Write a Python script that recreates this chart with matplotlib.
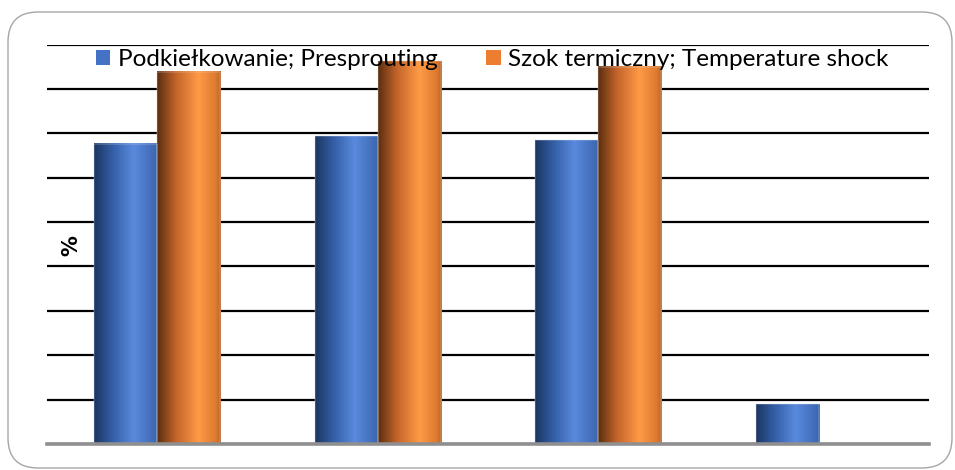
import numpy as np
import matplotlib
matplotlib.use("Agg")
import matplotlib.pyplot as plt
from matplotlib.colors import LinearSegmentedColormap, to_rgb
from matplotlib.patches import FancyBboxPatch, Patch

# ---------------------------------------------------------------------------
# Data (% values per treatment group)
# ---------------------------------------------------------------------------
CATEGORIES = ["1", "2", "3", "4"]
PRESPROUTING = [67.6, 69.3, 68.4, 8.9]
TEMP_SHOCK = [83.9, 86.2, 85.0, np.nan]
SERIES_LABELS = ["Podkiełkowanie; Presprouting", "Szok termiczny; Temperature shock"]

# cylinder-like shading across each bar, left to right
BLUE_STOPS = [(0.0, "#1b3561"), (0.3, "#3560a8"), (0.62, "#5a8ade"), (1.0, "#3a64ad")]
ORANGE_STOPS = [(0.0, "#5a2e10"), (0.3, "#c4652a"), (0.65, "#ff9a46"), (0.92, "#dd7a30"), (1.0, "#b9652c")]

plt.rcParams["font.family"] = ["Lato", "DejaVu Sans"]

W, H = 955, 470
fig = plt.figure(figsize=(W / 100, H / 100), dpi=100)
ax = fig.add_axes([47 / W, 1 - 444 / H, 882 / W, 399.5 / H])

# rounded outer frame (circular corners via mutation_aspect)
r = 30
frame = FancyBboxPatch((8 / W, 2 / H), 944 / W, 456 / H,
                       boxstyle=f"round,pad=0,rounding_size={r / W}",
                       mutation_aspect=W / H,
                       transform=fig.transFigure, facecolor="none",
                       edgecolor="#a6a6a6", linewidth=1.0, zorder=0)
fig.patches.append(frame)

x = np.arange(len(CATEGORIES))
width = 0.286


def shade_bars(bars, stops):
    cmap = LinearSegmentedColormap.from_list(
        "shade", [(p, to_rgb(c)) for p, c in stops])
    grad = cmap(np.linspace(0, 1, 256))[None, :, :3]
    for b in bars:
        h = b.get_height()
        if not np.isfinite(h) or h == 0:
            continue
        x0 = b.get_x()
        ax.imshow(grad, extent=(x0, x0 + b.get_width(), 0, h),
                  aspect="auto", zorder=3, interpolation="bilinear")
        b.set_facecolor("none")


b1 = ax.bar(x - width / 2, PRESPROUTING, width, color="#4472c4",
            edgecolor="#d3dcec", linewidth=0.3, zorder=4, label=SERIES_LABELS[0])
b2 = ax.bar(x + width / 2, TEMP_SHOCK, width, color="#ed7d31",
            edgecolor="#e6cdbb", linewidth=0.3, zorder=4, label=SERIES_LABELS[1])
shade_bars(b1, BLUE_STOPS)
shade_bars(b2, ORANGE_STOPS)

ax.set_xlim(-0.5, len(CATEGORIES) - 0.5)
ax.set_ylim(0, 90)
ax.set_yticks(np.arange(0, 91, 10))
ax.set_xticks([])
ax.tick_params(axis="y", length=0, labelleft=False)
ax.yaxis.grid(True, color="black", linewidth=1.6)
ax.set_axisbelow(True)
for s in ["top", "left", "right"]:
    ax.spines[s].set_visible(False)
ax.spines["bottom"].set_color("#8f8f8f")
ax.spines["bottom"].set_linewidth(2.6)
ax.spines["bottom"].set_zorder(5)

ax.text(-0.39, 44.8, "%", rotation=90, ha="center", va="center",
        fontsize=15, fontweight="bold", family="DejaVu Sans")

handles = [Patch(facecolor="#4472c4"), Patch(facecolor="#ed7d31")]
leg = ax.legend(handles, SERIES_LABELS, loc="center", ncol=2,
                bbox_to_anchor=(0.5045, 0.962), frameon=False, fontsize=17.5,
                handlelength=0.6, handleheight=0.6, handletextpad=0.3,
                columnspacing=2.0, borderaxespad=0)
leg.set_zorder(10)

fig.savefig("out.png", dpi=100)
